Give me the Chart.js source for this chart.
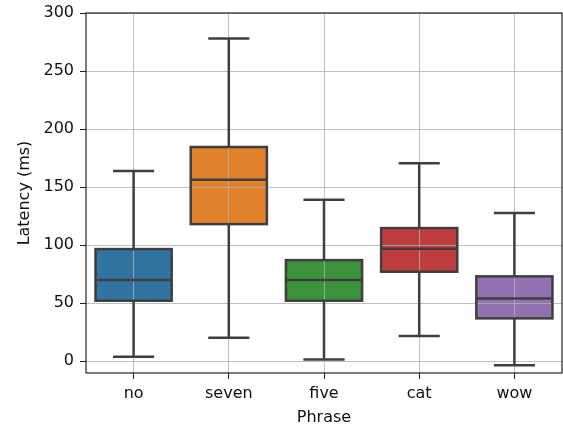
<!DOCTYPE html>
<html>
<head>
<meta charset="utf-8">
<script src="https://cdn.jsdelivr.net/npm/chart.js@4"></script>
<style>
  html, body { margin: 0; padding: 0; background: #fff; }
  #wrap { width: 563px; height: 428px; }
</style>
</head>
<body>
<div id="wrap"><canvas id="chart"></canvas></div>
<script>
// box plot values
const phrases = ["no", "seven", "five", "cat", "wow"];
const whiskerLow = [3.7, 20, 1.4, 21.5, -3.7];
const q1 = [52, 118, 52, 77, 36.8];
const medians = [69.8, 156.3, 69.8, 96.8, 54];
const q3 = [96.5, 184.5, 87, 114.6, 73];
const whiskerHigh = [163.8, 278, 139, 170.4, 127.6];
const boxColors = ["#3274a1", "#e1812c", "#3a923a", "#c03d3e", "#9372b2"];
const yTicks = [0, 50, 100, 150, 200, 250, 300];

const edge = "#3f3f3f";
Chart.defaults.font.family = "'DejaVu Sans', sans-serif";
Chart.defaults.font.size = 16;
Chart.defaults.color = "#111";

// box fill sits under the grid; outlines, whiskers and medians go over it
const boxParts = {
  id: "boxParts",
  afterDraw(chart) {
    const ctx = chart.ctx;
    const y = chart.scales.y;
    const bars = chart.getDatasetMeta(0).data;
    ctx.save();
    ctx.strokeStyle = edge;
    ctx.lineWidth = 2.5;
    bars.forEach((bar, i) => {
      const x = bar.x;
      const half = bar.width / 2;
      const cap = bar.width * 0.27;
      const top = y.getPixelForValue(q3[i]);
      const bottom = y.getPixelForValue(q1[i]);
      const hi = y.getPixelForValue(whiskerHigh[i]);
      const lo = y.getPixelForValue(whiskerLow[i]);
      const med = y.getPixelForValue(medians[i]);
      ctx.beginPath();
      ctx.moveTo(x, top);
      ctx.lineTo(x, hi);
      ctx.moveTo(x, bottom);
      ctx.lineTo(x, lo);
      ctx.moveTo(x - cap, hi);
      ctx.lineTo(x + cap, hi);
      ctx.moveTo(x - cap, lo);
      ctx.lineTo(x + cap, lo);
      ctx.moveTo(x - half, med);
      ctx.lineTo(x + half, med);
      ctx.stroke();
      ctx.strokeRect(x - half, top, bar.width, bottom - top);
    });
    ctx.restore();

    // all four spines
    const a = chart.chartArea;
    ctx.save();
    ctx.strokeStyle = "#222";
    ctx.lineWidth = 1.2;
    ctx.strokeRect(a.left, a.top, a.right - a.left, a.bottom - a.top);
    ctx.restore();
  }
};

new Chart(document.getElementById("chart"), {
  type: "bar",
  data: {
    labels: phrases,
    datasets: [{
      data: phrases.map((p, i) => [q1[i], q3[i]]),
      backgroundColor: boxColors,
      borderColor: edge,
      borderWidth: 0,
      borderSkipped: false,
      barPercentage: 0.8,
      categoryPercentage: 1
    }]
  },
  options: {
    responsive: true,
    maintainAspectRatio: false,
    animation: false,
    layout: { padding: { top: 13, right: 1, left: 0, bottom: 0 } },
    plugins: { legend: { display: false }, tooltip: { enabled: false } },
    scales: {
      x: {
        offset: true,
        grid: { offset: false, z: 1, color: "rgba(176,176,176,0.8)", tickColor: "#222", tickLength: 6 },
        border: { display: false },
        ticks: { padding: 5 },
        title: { display: true, text: "Phrase", padding: { top: 0, bottom: 1 } },
        afterFit(scale) { scale.height = 55; scale.paddingLeft = 0; scale.paddingRight = 0; }
      },
      y: {
        min: -10.3,
        max: 300,
        afterBuildTicks(scale) { scale.ticks = yTicks.map(v => ({ value: v })); },
        grid: { z: 1, color: "rgba(176,176,176,0.8)", tickColor: "#222", tickLength: 6 },
        border: { display: false },
        ticks: { padding: 6 },
        title: { display: true, text: "Latency (ms)", padding: { top: 15, bottom: 0 } },
        afterFit(scale) { scale.width = 86; scale.paddingTop = 0; scale.paddingBottom = 0; }
      }
    }
  },
  plugins: [boxParts]
});
</script>
</body>
</html>
